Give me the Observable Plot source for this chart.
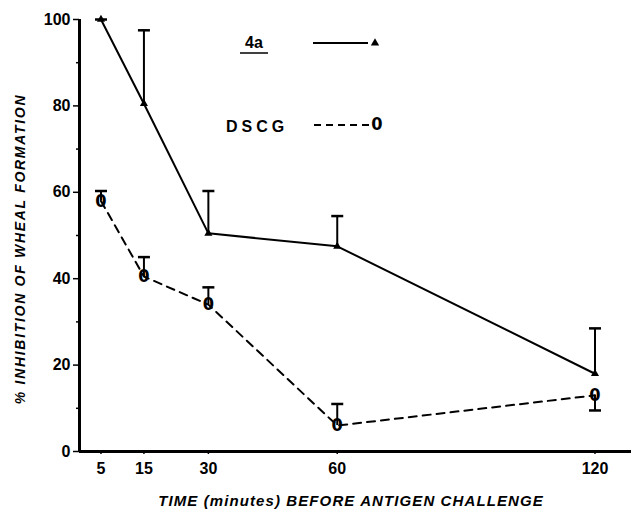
<!DOCTYPE html>
<html>
<head>
<meta charset="utf-8">
<script src="https://cdn.jsdelivr.net/npm/d3@7"></script>
<script src="https://cdn.jsdelivr.net/npm/@observablehq/plot@0.6"></script>
<style>
  html, body { margin: 0; padding: 0; background: #fff; }
  #chart svg { display: block; }
</style>
</head>
<body>
<div id="chart"></div>
<script>
// ---- data ----
const times = [5, 15, 30, 60, 120];
const a4Mean = [100, 80.5, 50.5, 47.5, 18];
const a4ErrEnd = [100, 97.5, 60.3, 54.5, 28.5];
const dscgMean = [58, 40.5, 34, 6, 13];
const dscgErrEnd = [60.3, 45, 38, 11, 9.5];
const yTicks = [0, 20, 40, 60, 80, 100];
const yMinorTicks = [10, 30, 50, 70, 90];
const xTitle = "TIME (minutes) BEFORE ANTIGEN CHALLENGE";
const yTitle = "% INHIBITION OF WHEAL FORMATION";
const seriesNames = ["4a", "DSCG"];

const a4 = times.map((t, i) => ({t, v: a4Mean[i], e: a4ErrEnd[i]}));
const dscg = times.map((t, i) => ({t, v: dscgMean[i], e: dscgErrEnd[i]}));

// horizontal-bar symbol for error-bar caps
const capSymbol = {
  draw(ctx, size) {
    const r = Math.sqrt(size / Math.PI);
    ctx.moveTo(-r, 0);
    ctx.lineTo(r, 0);
  }
};

const sans = "Liberation Sans, Arial, sans-serif";

const chart = Plot.plot({
  width: 631,
  height: 512,
  marginLeft: 79,
  marginRight: 0,
  marginTop: 19,
  marginBottom: 61,
  x: {domain: [0, 128.5]},
  y: {domain: [0, 100]},
  style: {fontFamily: sans, background: "#fff", color: "#000"},
  marks: [
    Plot.axisY({ticks: yMinorTicks, tickFormat: () => "", tickSize: 3, label: null, strokeWidth: 1.5}),
    Plot.axisY({ticks: yTicks, tickSize: 6, tickPadding: 3, fontSize: 16, fontWeight: "bold", label: null, strokeWidth: 1.5}),
    Plot.axisX({ticks: times, tickSize: 3, tickPadding: 8, fontSize: 16, fontWeight: "bold", label: null, strokeWidth: 1.5}),
    Plot.ruleX([0], {strokeWidth: 3}),
    Plot.ruleY([0], {strokeWidth: 3}),
    // 4a series
    Plot.ruleX(a4, {x: "t", y1: "v", y2: "e", strokeWidth: 2}),
    Plot.dot(a4, {x: "t", y: "e", symbol: capSymbol, r: 6, stroke: "black", strokeWidth: 2.5}),
    Plot.line(a4, {x: "t", y: "v", stroke: "black", strokeWidth: 2}),
    Plot.dot(a4, {x: "t", y: "v", symbol: "triangle", r: 3, fill: "black"}),
    // DSCG series
    Plot.ruleX(dscg, {x: "t", y1: "v", y2: "e", strokeWidth: 2}),
    Plot.dot(dscg, {x: "t", y: "e", symbol: capSymbol, r: 6, stroke: "black", strokeWidth: 2.5}),
    Plot.line(dscg, {x: "t", y: "v", stroke: "black", strokeWidth: 2, strokeDasharray: "8,6"}),
    Plot.text(dscg, {x: "t", y: "v", text: () => "0", fontSize: 18, fontWeight: "bold",
      fontFamily: "DejaVu Sans Condensed, Liberation Sans Narrow, Liberation Sans, sans-serif",
      fill: "black"})
  ]
});

const svg = d3.select(chart);

// axis titles
svg.append("text")
  .attr("transform", "translate(21,249) rotate(-90)")
  .attr("text-anchor", "middle")
  .attr("dominant-baseline", "middle")
  .style("font", "italic bold 14px 'Liberation Sans', Arial, sans-serif")
  .style("letter-spacing", "1.7px")
  .text(yTitle);

svg.append("text")
  .attr("x", 351).attr("y", 502)
  .attr("text-anchor", "middle")
  .attr("dominant-baseline", "middle")
  .style("font", "italic bold 15px 'Liberation Sans', Arial, sans-serif")
  .style("letter-spacing", "1.1px")
  .text(xTitle);

// legend
const lg = svg.append("g");
lg.append("text").attr("x", 254).attr("y", 48).attr("text-anchor", "middle")
  .style("font", "bold 16px 'Liberation Sans', Arial, sans-serif").text(seriesNames[0]);
lg.append("line").attr("x1", 240).attr("x2", 268).attr("y1", 53).attr("y2", 53)
  .attr("stroke", "black").attr("stroke-width", 1.5);
lg.append("line").attr("x1", 313).attr("x2", 368).attr("y1", 43).attr("y2", 43)
  .attr("stroke", "black").attr("stroke-width", 2);
lg.append("path").attr("d", d3.symbol(d3.symbolTriangle, 30)())
  .attr("transform", "translate(375,43)").attr("fill", "black");

lg.append("text").attr("x", 226).attr("y", 132).attr("text-anchor", "start")
  .style("font", "bold 16px 'Liberation Sans', Arial, sans-serif")
  .style("letter-spacing", "4px").text(seriesNames[1]);
lg.append("line").attr("x1", 314).attr("x2", 370).attr("y1", 125).attr("y2", 125)
  .attr("stroke", "black").attr("stroke-width", 2).attr("stroke-dasharray", "7,5");
lg.append("text").attr("x", 377).attr("y", 125).attr("text-anchor", "middle")
  .attr("dominant-baseline", "middle")
  .style("font", "bold 18px 'DejaVu Sans Condensed', 'Liberation Sans Narrow', 'Liberation Sans', sans-serif")
  .text("0");

document.getElementById("chart").appendChild(chart);
</script>
</body>
</html>
